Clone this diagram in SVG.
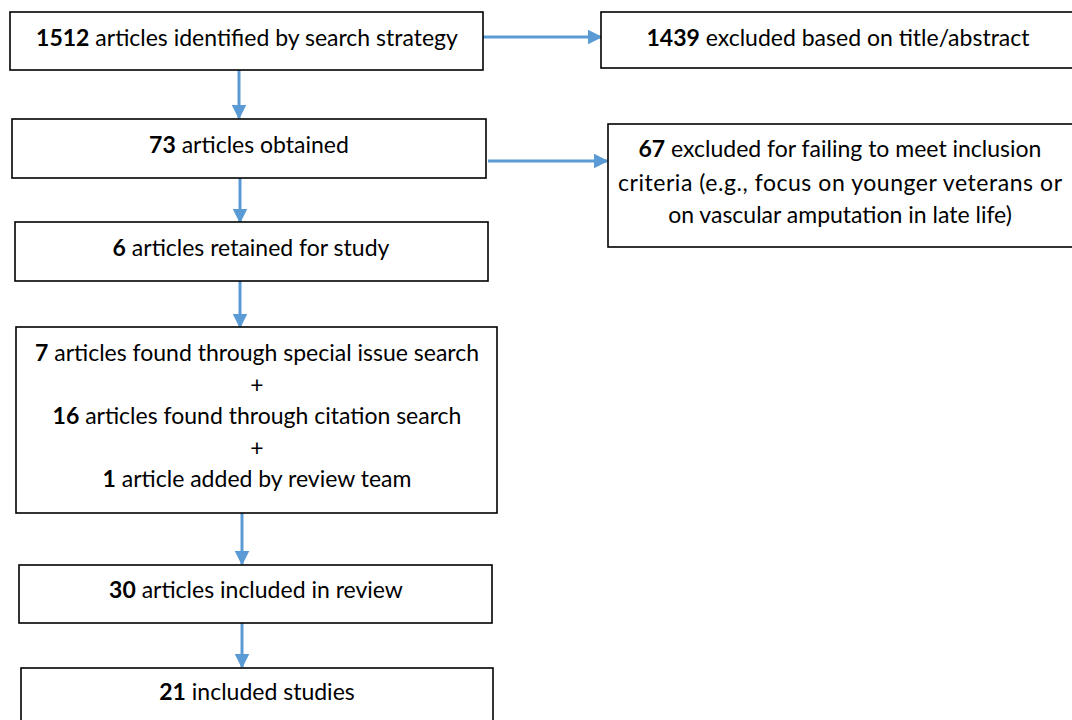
<svg xmlns="http://www.w3.org/2000/svg" width="1072" height="720" viewBox="0 0 1072 720">
<style>
.box{fill:#fff;stroke:#000;stroke-width:1.6}
.t{font-family:Lato,"Liberation Sans",sans-serif;font-size:23px;fill:#000;text-anchor:middle}
.b{font-weight:bold}
.c{stroke:#5B9BD5;stroke-width:3;fill:none;marker-end:url(#ah)}
</style>
<defs>
<marker id="ah" markerWidth="5" markerHeight="5" refX="4.5" refY="2.5" orient="auto" markerUnits="strokeWidth" viewBox="0 0 5 5">
<path d="M0,0 L5,2.5 L0,5 Z" fill="#5B9BD5"/>
</marker>
</defs>
<rect width="1072" height="720" fill="#fff"/>
<g id="connectors">
<line class="c" x1="483" y1="37" x2="601" y2="37"/>
<line class="c" x1="488" y1="161" x2="607" y2="161"/>
<line class="c" x1="239" y1="70" x2="239" y2="118"/>
<line class="c" x1="240" y1="178" x2="240" y2="222"/>
<line class="c" x1="240" y1="281" x2="240" y2="327"/>
<line class="c" x1="242" y1="513" x2="242" y2="564"/>
<line class="c" x1="242" y1="623" x2="242" y2="667"/>
</g>
<g id="n1"><rect class="box" x="10" y="12" width="473" height="58"/>
<text class="t" x="247" y="46"><tspan class="b">1512</tspan> articles identified by search strategy</text></g>
<g id="n2"><rect class="box" x="601" y="12" width="480" height="56"/>
<text class="t" x="838" y="46"><tspan class="b">1439</tspan> excluded based on title/abstract</text></g>
<g id="n3"><rect class="box" x="12" y="119" width="474" height="59"/>
<text class="t" x="249" y="153"><tspan class="b">73</tspan> articles obtained</text></g>
<g id="n4"><rect class="box" x="608" y="124" width="474" height="123"/>
<text class="t" x="840" y="157"><tspan class="b">67</tspan> excluded for failing to meet inclusion</text>
<text class="t" x="840" y="191" textLength="444" lengthAdjust="spacing">criteria (e.g., focus on younger veterans or</text>
<text class="t" x="840" y="223">on vascular amputation in late life)</text></g>
<g id="n5"><rect class="box" x="15" y="222" width="473" height="59"/>
<text class="t" x="251" y="256"><tspan class="b">6</tspan> articles retained for study</text></g>
<g id="n6"><rect class="box" x="16" y="327" width="481" height="186"/>
<text class="t" x="257" y="361"><tspan class="b">7</tspan> articles found through special issue search</text>
<text class="t" x="257" y="393">+</text>
<text class="t" x="257" y="424"><tspan class="b">16</tspan> articles found through citation search</text>
<text class="t" x="257" y="456">+</text>
<text class="t" x="257" y="487"><tspan class="b">1</tspan> article added by review team</text></g>
<g id="n7"><rect class="box" x="19" y="565" width="473" height="58"/>
<text class="t" x="256" y="598"><tspan class="b">30</tspan> articles included in review</text></g>
<g id="n8"><rect class="box" x="21" y="668" width="472" height="60"/>
<text class="t" x="257" y="700"><tspan class="b">21</tspan> included studies</text></g>
</svg>
